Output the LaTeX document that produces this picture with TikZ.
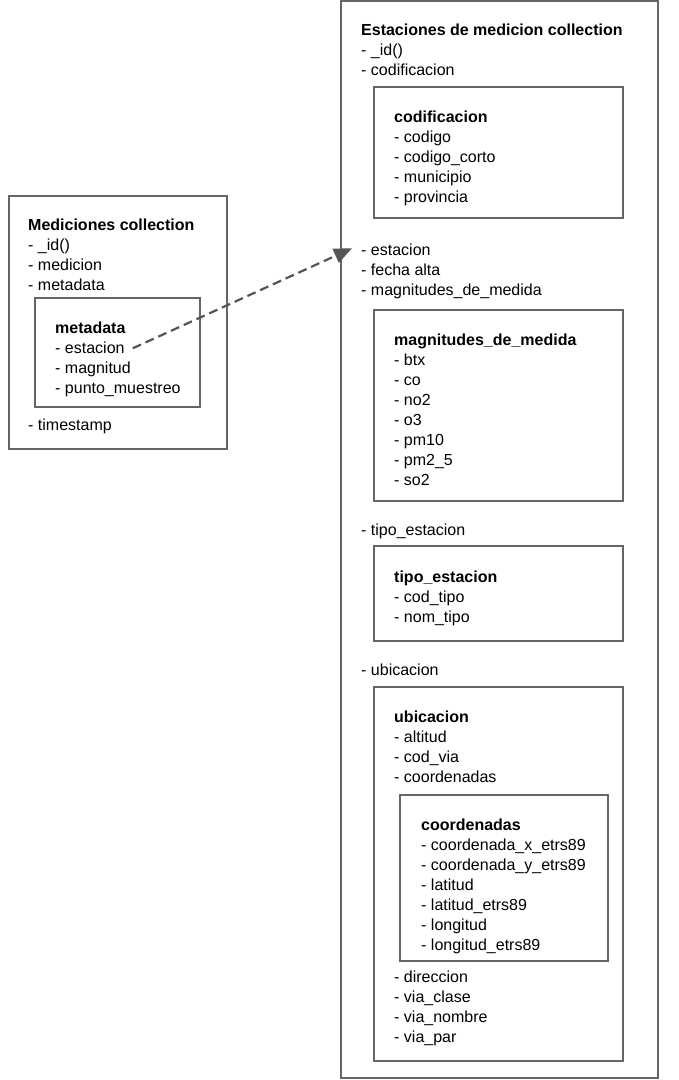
\documentclass[tikz,border=0pt]{standalone}
\usepackage{fontspec}
\setmainfont{Liberation Sans}
\usetikzlibrary{arrows.meta}
\definecolor{boxgray}{HTML}{666666}
\definecolor{arrowgray}{HTML}{555555}
\newcommand{\tl}[4]{\node[lbl] (#1) at (#2,#3) {#4};}
\newcommand{\tb}[4]{\node[lbl,font=\fontsize{16}{20}\selectfont\bfseries] (#1) at (#2,#3) {#4};}
\begin{document}
\begin{tikzpicture}[x=1pt,y=-1pt,
  lbl/.style={anchor=base west,inner sep=0pt,font=\fontsize{16}{20}\selectfont,text=black},
  boxx/.style={draw=boxgray,line width=2pt},
  link/.style={draw=arrowgray,line width=2.2pt,dash pattern=on 9pt off 5pt,-{Triangle[length=18pt,width=15pt]}}]
\useasboundingbox (0,0) rectangle (679,1080);
% Mediciones collection
\path[boxx] (9,196) rectangle (227,449);
\tb{mtitle}{28}{230}{Mediciones collection}
\tl{mid}{28}{250}{- \_id()}
\tl{mmed}{28}{270}{- medicion}
\tl{mmeta}{28}{290}{- metadata}
\path[boxx] (35,298) rectangle (200,407);
\tb{metatitle}{55}{333}{metadata}
\tl{metaest}{55}{353}{- estacion}
\tl{metamag}{55}{373}{- magnitud}
\tl{metapm}{55}{393}{- punto\_muestreo}
\tl{mts}{28}{430}{- timestamp}
% Estaciones collection
\path[boxx] (341,1) rectangle (658,1078);
\tb{etitle}{361}{35}{Estaciones de medicion collection}
\tl{eid}{361}{55}{- \_id()}
\tl{ecod}{361}{75}{- codificacion}
\path[boxx] (374,87) rectangle (623,218);
\tb{codtitle}{394}{122}{codificacion}
\tl{c1}{394}{142}{- codigo}
\tl{c2}{394}{162}{- codigo\_corto}
\tl{c3}{394}{182}{- municipio}
\tl{c4}{394}{202}{- provincia}
\tl{eest}{361}{255}{- estacion}
\tl{efa}{361}{275}{- fecha alta}
\tl{emag}{361}{295}{- magnitudes\_de\_medida}
\path[boxx] (374,310) rectangle (623,501);
\tb{magtitle}{394}{345}{magnitudes\_de\_medida}
\tl{g1}{394}{365}{- btx}
\tl{g2}{394}{385}{- co}
\tl{g3}{394}{405}{- no2}
\tl{g4}{394}{425}{- o3}
\tl{g5}{394}{445}{- pm10}
\tl{g6}{394}{465}{- pm2\_5}
\tl{g7}{394}{485}{- so2}
\tl{etipo}{361}{535}{- tipo\_estacion}
\path[boxx] (374,546) rectangle (623,641);
\tb{tipotitle}{394}{582}{tipo\_estacion}
\tl{t1}{394}{602}{- cod\_tipo}
\tl{t2}{394}{622}{- nom\_tipo}
\tl{eubi}{361}{675}{- ubicacion}
\path[boxx] (374,687) rectangle (623,1061);
\tb{ubititle}{394}{722}{ubicacion}
\tl{u1}{394}{742}{- altitud}
\tl{u2}{394}{762}{- cod\_via}
\tl{u3}{394}{782}{- coordenadas}
\path[boxx] (400,795) rectangle (608,961);
\tb{cootitle}{421}{830}{coordenadas}
\tl{k1}{421}{850}{- coordenada\_x\_etrs89}
\tl{k2}{421}{870}{- coordenada\_y\_etrs89}
\tl{k3}{421}{890}{- latitud}
\tl{k4}{421}{910}{- latitud\_etrs89}
\tl{k5}{421}{930}{- longitud}
\tl{k6}{421}{950}{- longitud\_etrs89}
\tl{u4}{394}{982}{- direccion}
\tl{u5}{394}{1002}{- via\_clase}
\tl{u6}{394}{1022}{- via\_nombre}
\tl{u7}{394}{1042}{- via\_par}
% connector
\path[link] ([xshift=8pt,yshift=-1pt]metaest.east) -- ([xshift=-9pt,yshift=1pt]eest.west);
\end{tikzpicture}
\end{document}
